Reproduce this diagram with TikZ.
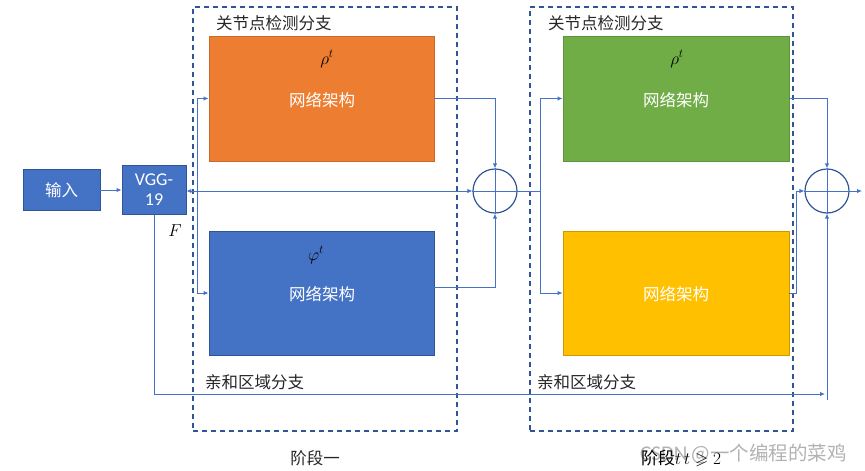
\documentclass[tikz,border=0pt]{standalone}
\usepackage{amssymb}
\usepackage{fontspec}
\newfontfamily\cjk{Noto Sans CJK SC}
\newfontfamily\lat{Carlito}
\usetikzlibrary{arrows.meta}
\definecolor{lblue}{HTML}{4472C4}
\definecolor{dblue}{HTML}{2F5597}
\definecolor{orng}{HTML}{ED7D31}
\definecolor{grn}{HTML}{70AD47}
\definecolor{ylw}{HTML}{FFC000}
\definecolor{txt}{HTML}{262626}
\tikzset{
  box/.style={draw, line width=0.9pt, inner sep=0pt, text=white, font=\cjk\fontsize{16.5}{18}\selectfont, align=center},
  netbox/.style={box, minimum width=225pt, minimum height=125pt},
  stagebox/.style={draw=dblue, dashed, dash pattern=on 5pt off 4pt, line width=1.2pt, minimum width=264pt, minimum height=424pt, inner sep=0pt},
  sumnode/.style={circle, draw=dblue, line width=1.2pt, minimum size=44pt, inner sep=0pt},
  conn/.style={draw=lblue, line width=1pt},
  arr/.style={conn, -{Latex[length=5pt,width=4.5pt]}},
  lab/.style={text=txt, font=\cjk\fontsize{16.5}{18}\selectfont, inner sep=0pt},
  sym/.style={text=black, font=\fontsize{18}{20}\selectfont, inner sep=0pt}
}
\begin{document}
\begin{tikzpicture}[x=1pt, y=-1pt]
\useasboundingbox (0,0) rectangle (865,471);
% stage frames
\node[stagebox] (st1) at (325,219) {};
\node[stagebox, minimum width=263pt] (st2) at (661.5,219) {};
% boxes
\node[box, fill=lblue, draw=dblue, minimum width=77pt, minimum height=41pt] (in) at (61.5,190) {输入};
\node[box, fill=lblue, draw=dblue, minimum width=64pt, minimum height=49pt, font=\lat\fontsize{18}{20}\selectfont] (vgg) at (154,190) {VGG-\\19};
\node[netbox, fill=orng, draw=orng!85!black] (n1) at (321.5,98.5) {};
\node[netbox, fill=lblue, draw=dblue, minimum height=124pt] (n2) at (321.5,293) {};
\node[netbox, fill=grn, draw=grn!85!black, minimum width=226pt] (n3) at (676,98.5) {};
\node[netbox, fill=ylw, draw=ylw!80!black, minimum width=226pt, minimum height=124pt] (n4) at (676,293) {};
% box texts
\node[box, draw=none] (t1) at (322,100) {网络架构};
\node[box, draw=none] (t2) at (322,294) {网络架构};
\node[box, draw=none] (t3) at (676,100) {网络架构};
\node[box, draw=none] (t4) at (676,294) {网络架构};
\node[sym] (r1) at (327,59) {$\rho^{t}$};
\node[sym] (p1) at (316,255) {$\varphi^{t}$};
\node[sym] (r2) at (677,59) {$\rho^{t}$};
\node[sym] (F) at (175,231) {$F$};
% sum nodes
\node[sumnode] (c1) at (495,191) {};
\node[sumnode] (c2) at (827,191) {};
\draw[conn] (c1.north) -- (c1.south) (c1.west) -- (c1.east);
\draw[conn] (c2.north) -- (c2.south) (c2.west) -- (c2.east);
% labels
\node[lab, anchor=west] (l1) at (216,23) {关节点检测分支};
\node[lab, anchor=west] (l2) at (548,23) {关节点检测分支};
\node[lab, anchor=west] (l3) at (205,382) {亲和区域分支};
\node[lab, anchor=west] (l4) at (537,382) {亲和区域分支};
\node[lab] (s1l) at (315,458) {阶段一};
\node[text=gray!60, font=\cjk\fontsize{19.5}{21}\selectfont, anchor=west, inner sep=0pt] (wm) at (640,454) {{\lat\fontsize{21}{21}\selectfont CSDN} @一个编程的菜鸡};
\node[lab, anchor=west, text=black, font=\cjk\fontsize{17}{18}\selectfont] (s2l) at (641,458) {阶段$t$\,$t\geqslant 2$};
% coordinates
\coordinate (s1) at (197,191);
\coordinate (s2) at (540,191);
\coordinate (k) at (796,191);
\coordinate (out) at (862,191);
\coordinate (d2) at (825,394);
\coordinate (d3) at (827,400);
% connectors
\draw[arr] (in.east |- vgg.east) -- (vgg.west);
\draw[conn, {Latex[length=5pt,width=4.5pt]}-{Latex[length=5pt,width=4.5pt]}] (vgg.east |- c1.west) -- (c1.west);
\draw[conn] (s1 |- n1.west) -- (s1 |- n2.west);
\draw[arr] (s1 |- n1.west) -- (n1.west);
\draw[arr] (s1 |- n2.west) -- (n2.west);
\draw[arr] (n1.east) -| (c1.north);
\draw[arr] ([yshift=6pt]n2.east) -| (c1.south);
\draw[conn] (c1.east) -- (s2);
\draw[arr] (s2) |- (n3.west);
\draw[arr] (s2) |- (n4.west);
\draw[arr] (n3.east) -| (c2.north);
\draw[arr] (n4.east) -| (k) -- (c2.west);
\draw[arr] (c2.east) -- (out);
\draw[arr] (vgg.south) |- (d2);
\draw[arr] (d3) -- (c2.south);
\end{tikzpicture}
\end{document}
